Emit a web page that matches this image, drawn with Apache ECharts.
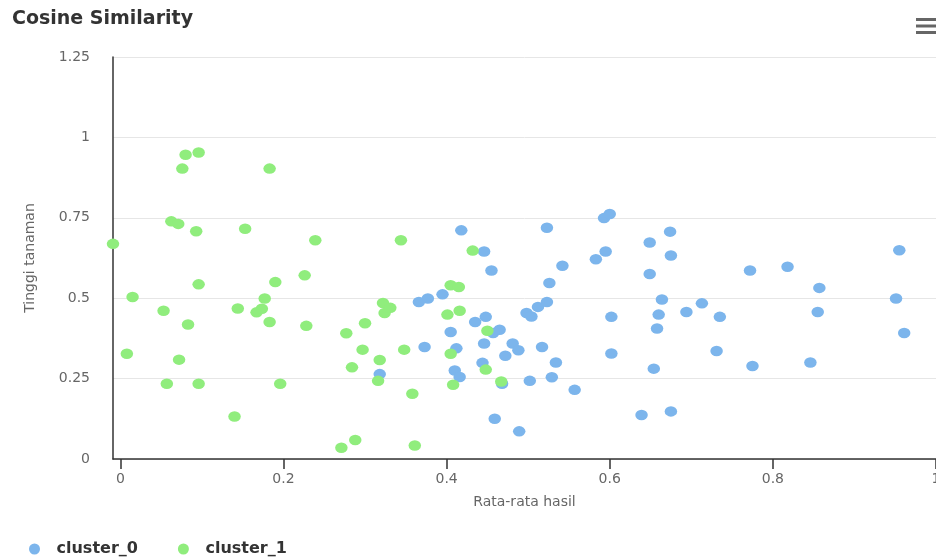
<!DOCTYPE html>
<html>
<head>
<meta charset="utf-8">
<script src="https://cdn.jsdelivr.net/npm/echarts@6/dist/echarts.min.js"></script>
<style>
html,body{margin:0;padding:0;background:#fff;}
#chart{width:936px;height:557px;}
</style>
</head>
<body>
<div id="chart"></div>
<script>
// ---- data ----
var titleText = "Cosine Similarity";
var xAxisName = "Rata-rata hasil";
var yAxisName = "Tinggi tanaman";
var seriesNames = ["cluster_0", "cluster_1"];
var xTicks = [0, 0.2, 0.4, 0.6, 0.8, 1];
var yTicks = [0, 0.25, 0.5, 0.75, 1, 1.25];

var cluster0 = [
  [0.318,0.264],[0.366,0.488],[0.377,0.499],[0.395,0.512],[0.373,0.348],
  [0.405,0.395],[0.410,0.275],[0.416,0.255],[0.412,0.344],[0.418,0.711],
  [0.435,0.426],[0.446,0.645],[0.448,0.442],[0.455,0.586],[0.457,0.392],
  [0.465,0.402],[0.446,0.359],[0.444,0.299],[0.472,0.321],[0.468,0.234],
  [0.459,0.125],[0.481,0.359],[0.488,0.338],[0.489,0.086],[0.498,0.454],
  [0.504,0.443],[0.502,0.243],[0.512,0.473],[0.517,0.348],[0.523,0.488],
  [0.523,0.719],[0.526,0.547],[0.529,0.254],[0.534,0.300],[0.542,0.601],
  [0.557,0.215],[0.583,0.621],[0.593,0.749],[0.600,0.762],[0.595,0.645],
  [0.602,0.442],[0.602,0.328],[0.639,0.137],[0.649,0.673],[0.649,0.575],
  [0.654,0.281],[0.658,0.406],[0.660,0.449],[0.664,0.496],[0.674,0.707],
  [0.675,0.633],[0.675,0.148],[0.694,0.457],[0.713,0.484],[0.731,0.336],
  [0.735,0.442],[0.772,0.586],[0.775,0.289],[0.818,0.598],[0.846,0.300],
  [0.855,0.457],[0.857,0.532],[0.951,0.499],[0.955,0.649],[0.961,0.392]
];
var cluster1 = [
  [-0.009,0.669],[0.008,0.327],[0.015,0.504],[0.053,0.461],[0.057,0.234],
  [0.0625,0.739],[0.071,0.731],[0.072,0.309],[0.076,0.903],[0.080,0.946],
  [0.083,0.418],[0.093,0.708],[0.096,0.953],[0.096,0.543],[0.096,0.234],
  [0.140,0.132],[0.144,0.468],[0.153,0.716],[0.167,0.456],[0.1735,0.467],
  [0.177,0.499],[0.183,0.903],[0.183,0.426],[0.190,0.550],[0.196,0.234],
  [0.226,0.571],[0.228,0.414],[0.239,0.680],[0.271,0.035],[0.277,0.391],
  [0.284,0.285],[0.288,0.059],[0.297,0.340],[0.300,0.422],[0.316,0.243],
  [0.318,0.308],[0.322,0.485],[0.324,0.454],[0.331,0.470],[0.344,0.680],
  [0.348,0.340],[0.358,0.203],[0.361,0.042],[0.401,0.449],[0.405,0.540],
  [0.405,0.327],[0.408,0.231],[0.415,0.535],[0.416,0.461],[0.432,0.648],
  [0.448,0.278],[0.450,0.399],[0.467,0.241]
];
var colors = ["#7cb5ec", "#90ed7d"];

var chart = echarts.init(document.getElementById('chart'), null, {renderer: 'canvas'});
var font = "DejaVu Sans";
var option = {
  animation: false,
  backgroundColor: '#ffffff',
  title: {
    text: titleText,
    left: 7,
    top: 5,
    textStyle: {fontFamily: font, fontWeight: 'bold', fontSize: 19, color: '#333333'}
  },
  legend: {
    data: seriesNames,
    left: 29,
    bottom: 0,
    padding: 0,
    icon: 'circle',
    itemWidth: 34,
    itemHeight: 11,
    itemGap: 40,
    textStyle: {fontFamily: font, fontWeight: 'bold', fontSize: 16, color: '#333333'}
  },
  grid: {left: 113, top: 57, right: 0, bottom: 98, containLabel: false, outerBoundsMode: 'none'},
  xAxis: {
    type: 'value',
    min: -0.009,
    max: 1,
    name: xAxisName,
    nameLocation: 'middle',
    nameGap: 36,
    nameTextStyle: {fontFamily: font, fontSize: 14, color: '#666666'},
    axisLine: {show: true, onZero: false, lineStyle: {color: '#333333', width: 1.5}},
    axisTick: {show: true, length: 10, customValues: xTicks, lineStyle: {color: '#333333', width: 1.5}},
    axisLabel: {customValues: xTicks, margin: 13, fontFamily: font, fontSize: 14, color: '#666666'},
    splitLine: {show: false}
  },
  yAxis: {
    type: 'value',
    min: 0,
    max: 1.25,
    interval: 0.25,
    name: yAxisName,
    nameLocation: 'middle',
    nameGap: 76,
    nameTextStyle: {fontFamily: font, fontSize: 14, color: '#666666'},
    axisLine: {show: true, onZero: false, lineStyle: {color: '#333333', width: 1.5}},
    axisTick: {show: false},
    axisLabel: {margin: 23, fontFamily: font, fontSize: 14, color: '#666666',
      formatter: function(v){ return String(v); }},
    splitLine: {show: true, lineStyle: {color: '#e6e6e6', width: 1}}
  },
  graphic: [
    {type: 'rect', left: 916, top: 18, shape: {width: 22, height: 3}, style: {fill: '#666666'}},
    {type: 'rect', left: 916, top: 24.5, shape: {width: 22, height: 3}, style: {fill: '#666666'}},
    {type: 'rect', left: 916, top: 31, shape: {width: 22, height: 3}, style: {fill: '#666666'}}
  ],
  series: [
    {name: seriesNames[0], type: 'scatter', data: cluster0, symbol: 'circle', symbolSize: [12.5, 10.5],
     itemStyle: {color: colors[0], opacity: 1}, z: 2},
    {name: seriesNames[1], type: 'scatter', data: cluster1, symbol: 'circle', symbolSize: [12.5, 10.5],
     itemStyle: {color: colors[1], opacity: 1}, z: 3}
  ]
};
chart.setOption(option);
</script>
</body>
</html>
